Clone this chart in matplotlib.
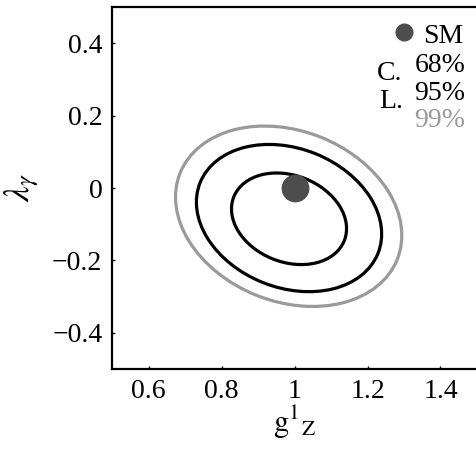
"""
Confidence regions in the (g1_Z, lambda_gamma) plane, with the SM point.
"""

import matplotlib
matplotlib.use('Agg')
import matplotlib.pyplot as plt
from matplotlib.patches import Ellipse


# Values

levels = ['68%', '95%', '99%']
centre_x = [0.985, 0.985, 0.984]        # g1_Z of each ellipse centre
centre_y = [-0.085, -0.083, -0.078]     # lambda_gamma of each centre
widths = [0.326, 0.525, 0.641]          # full major axis
heights = [0.239, 0.384, 0.471]         # full minor axis
angles = [-22, -22, -22]                # tilt in degrees

sm_point = (1.0, 0.0)

x_ticks = [0.6, 0.8, 1.0, 1.2, 1.4]
x_labels = ['0.6', '0.8', '1', '1.2', '1.4']
y_ticks = [-0.4, -0.2, 0.0, 0.2, 0.4]
y_labels = ['\u22120.4', '\u22120.2', '0', '0.2', '0.4']

colours = ['black', 'black', '#9a9a9a']

# Fonts: Times-like everywhere

plt.rcParams['font.family'] = ['Liberation Serif', 'DejaVu Serif']
plt.rcParams['mathtext.fontset'] = 'stix'
plt.rcParams['font.size'] = 20

fig = plt.figure(figsize=(4.76, 4.5), dpi=100)
ax = fig.add_axes([0.2353, 0.18, 0.7668, 0.8044])

for i in range(len(levels)):
    ell = Ellipse((centre_x[i], centre_y[i]), widths[i], heights[i],
                  angle=angles[i], fill=False,
                  edgecolor=colours[i], linewidth=2.3, zorder=2)
    ax.add_patch(ell)

# Standard Model point on top of the contours
ax.plot(sm_point[0], sm_point[1], 'o', markersize=20,
        color='#4d4d4d', markeredgewidth=0, zorder=3)

ax.set_xlim(0.5, 1.5)
ax.set_ylim(-0.5, 0.5)
ax.set_xticks(x_ticks)
ax.set_xticklabels(x_labels)
ax.set_yticks(y_ticks)
ax.set_yticklabels(y_labels)
ax.tick_params(direction='in', length=2, width=1, pad=7,
               top=False, right=False)

for side in ['left', 'bottom', 'top']:
    ax.spines[side].set_linewidth(1.6)
ax.spines['right'].set_visible(False)

ax.set_xlabel(r'$\mathrm{g}^{1}{}_{\mathrm{Z}}$', fontsize=22, labelpad=0)
ax.set_ylabel(r'$\lambda_{\gamma}$', fontsize=25, labelpad=8)

# Legend written by hand in the upper right corner
ax.plot(1.299, 0.430, 'o', markersize=13, color='#4d4d4d',
        markeredgewidth=0, clip_on=False)
ax.text(1.353, 0.400, 'SM', ha='left', va='baseline')
ax.text(1.227, 0.298, 'C.', ha='left', va='baseline')
ax.text(1.233, 0.221, 'L.', ha='left', va='baseline')
ax.text(1.329, 0.320, levels[0], ha='left', va='baseline', color=colours[0])
ax.text(1.329, 0.243, levels[1], ha='left', va='baseline', color=colours[1])
ax.text(1.329, 0.168, levels[2], ha='left', va='baseline', color=colours[2])

fig.savefig('out.png', dpi=100)
